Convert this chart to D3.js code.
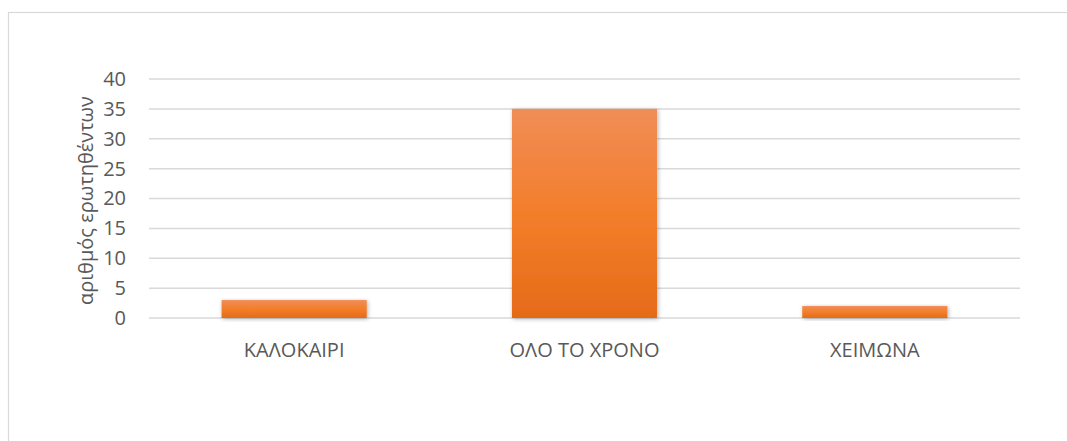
<!DOCTYPE html>
<html>
<head>
<meta charset="utf-8">
<script src="https://cdn.jsdelivr.net/npm/d3@7"></script>
<style>
  body { margin: 0; background: #fff; }
  svg text { font-family: "Open Sans", "Noto Sans", sans-serif; fill: #595959; }
</style>
</head>
<body>
<svg id="chart"></svg>
<script>
const categories = ['ΚΑΛΟΚΑΙΡΙ', 'ΟΛΟ ΤΟ ΧΡΟΝΟ', 'ΧΕΙΜΩΝΑ'];
const values = [3, 35, 2];
const yticks = [0, 5, 10, 15, 20, 25, 30, 35, 40];
const ylabel = 'αριθμός ερωτηθέντων';

const width = 1067, height = 441;
const margin = {top: 79, right: 47, bottom: 123, left: 149};
const inner_width = width - margin.left - margin.right;
const inner_height = height - margin.top - margin.bottom;

const svg = d3.select('#chart')
    .attr('width', width)
    .attr('height', height);

// outer chart frame
svg.append('rect')
    .attr('x', 8.5).attr('y', 12.5)
    .attr('width', width + 10).attr('height', height + 10)
    .attr('fill', 'none')
    .attr('stroke', '#d9d9d9')
    .attr('stroke-width', 1.2);

const defs = svg.append('defs');
const grad = defs.append('linearGradient')
    .attr('id', 'bargrad')
    .attr('x1', 0).attr('y1', 0).attr('x2', 0).attr('y2', 1);
grad.append('stop').attr('offset', '0%').attr('stop-color', '#f08d57');
grad.append('stop').attr('offset', '50%').attr('stop-color', '#f37e2b');
grad.append('stop').attr('offset', '100%').attr('stop-color', '#e56b18');

const shadow = defs.append('filter')
    .attr('id', 'shadow')
    .attr('x', '-10%').attr('y', '-10%').attr('width', '130%').attr('height', '130%');
shadow.append('feDropShadow')
    .attr('dx', 1).attr('dy', 1).attr('stdDeviation', 2)
    .attr('flood-color', '#000').attr('flood-opacity', 0.3);

const chart = svg.append('g')
    .attr('transform', `translate(${margin.left}, ${margin.top})`);

const xscale = d3.scaleBand()
    .domain(categories)
    .range([0, inner_width])
    .paddingInner(0.5)
    .paddingOuter(0.25);

const yscale = d3.scaleLinear()
    .domain([0, 40])
    .range([inner_height, 0]);

// gridlines
chart.append('g')
    .selectAll('line')
    .data(yticks)
    .join('line')
    .attr('x1', 0)
    .attr('x2', inner_width)
    .attr('y1', d => yscale(d))
    .attr('y2', d => yscale(d))
    .attr('stroke', '#d9d9d9')
    .attr('stroke-width', 1.5);

// y axis
const yaxis_group = chart.append('g')
    .call(d3.axisLeft(yscale).tickValues(yticks).tickSize(0).tickPadding(23));
yaxis_group.select('.domain').remove();
yaxis_group.selectAll('text')
    .attr('font-size', '20px')
    .style('fill', '#595959')
    .attr('font-family', '"Open Sans", sans-serif');

// bars
chart.selectAll('.bar')
    .data(values)
    .join('rect')
    .attr('class', 'bar')
    .attr('x', (d, i) => xscale(categories[i]))
    .attr('y', d => yscale(d))
    .attr('width', xscale.bandwidth())
    .attr('height', d => inner_height - yscale(d))
    .attr('fill', 'url(#bargrad)')
    .attr('filter', 'url(#shadow)');

// x axis
const xaxis_group = chart.append('g')
    .attr('transform', `translate(0, ${inner_height})`)
    .call(d3.axisBottom(xscale).tickSize(0).tickPadding(25));
xaxis_group.select('.domain').remove();
xaxis_group.selectAll('text')
    .attr('font-size', '20px')
    .style('fill', '#595959')
    .attr('font-family', '"Open Sans", sans-serif');

// y label
svg.append('text')
    .attr('transform', `translate(86, ${margin.top + inner_height / 2 + 2}) rotate(-90)`)
    .attr('text-anchor', 'middle')
    .attr('dy', '0.35em')
    .attr('font-size', '20px')
    .text(ylabel);
</script>
</body>
</html>
